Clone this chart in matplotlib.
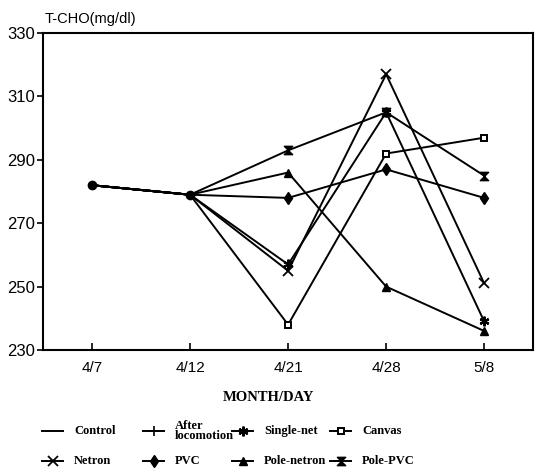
import numpy as np
import matplotlib
matplotlib.use("Agg")
import matplotlib.pyplot as plt
from matplotlib.path import Path
from matplotlib.lines import Line2D

days = ["4/7", "4/12", "4/21", "4/28", "5/8"]
nan = np.nan

control = [282, 279, nan, nan, nan]
after_loco = [282, 279, nan, nan, nan]
single_net = [282, 279, 257, 305, 239]
canvas = [282, 279, 238, 292, 297]
netron = [282, 279, 255, 317, 251]
pvc = [282, 279, 278, 287, 278]
pole_netron = [282, 279, 286, 250, 236]
pole_pvc = [282, 279, 293, 305, 285]

W, H = 537, 473

# hourglass marker for Pole-PVC
hourglass = Path([(-1, 1), (1, 1), (-1, -1), (1, -1), (-1, 1)],
                 [Path.MOVETO, Path.LINETO, Path.LINETO, Path.LINETO, Path.CLOSEPOLY])

fig = plt.figure(figsize=(W / 100, H / 100), dpi=100)
ax = fig.add_axes([0.080, 0.260, 0.913, 0.670])

x = np.arange(len(days))
lw = 1.4

series = [
    ("Control", control, dict(marker=None)),
    ("After\nlocomotion", after_loco, dict(marker="+", ms=7, mew=1.2)),
    ("Single-net", single_net, dict(marker=(6, 2, 0), ms=7, mew=1.6)),
    ("Canvas", canvas, dict(marker="s", ms=5, mfc="white", mew=1.4)),
    ("Netron", netron, dict(marker="x", ms=7, mew=1.3)),
    ("PVC", pvc, dict(marker="d", ms=6)),
    ("Pole-netron", pole_netron, dict(marker="^", ms=6)),
    ("Pole-PVC", pole_pvc, dict(marker=hourglass, ms=6)),
]

for name, vals, mk in series:
    ax.plot(x, vals, color="black", lw=lw, markevery=[2, 3, 4], **mk)

# the common start points are drawn as dots
ax.plot(x[:2], control[:2], "o", color="black", ms=6, ls="none")

ax.set_xlim(-0.5, 4.5)
ax.set_ylim(230, 330)
ax.set_yticks(np.arange(230, 331, 20))
ax.set_xticks(x)
ax.set_xticklabels(days)

for lab in ax.get_yticklabels():
    lab.set_fontfamily("Liberation Sans")
    lab.set_fontsize(12)
for lab in ax.get_xticklabels():
    lab.set_fontfamily("Liberation Sans")
    lab.set_fontsize(11)

ax.tick_params(axis="y", direction="out", length=4, width=1.2, pad=2)
ax.tick_params(axis="x", direction="in", length=5, width=1.2, pad=8)
for s in ax.spines.values():
    s.set_linewidth(1.5)

fig.text(0.083, 0.960, "T-CHO(mg/dl)", fontsize=10.5, family="Liberation Sans",
         ha="left", va="center")
fig.text(0.5, 0.160, "MONTH/DAY", fontsize=10.5, family="Liberation Serif",
         weight="bold", ha="center", va="center")

# hand-placed legend, 4 columns x 2 rows (pixel positions)
col_x = [42, 143, 232, 330]
row_y = [431, 461]
for i, (name, vals, mk) in enumerate(series):
    r, c = divmod(i, 4)
    x0 = col_x[c]
    y0 = H - row_y[r]
    fig.add_artist(Line2D([x0 / W, (x0 + 21) / W], [y0 / H, y0 / H],
                          transform=fig.transFigure, color="black", lw=lw))
    if mk.get("marker") is not None:
        fig.add_artist(Line2D([(x0 + 10.5) / W], [y0 / H], transform=fig.transFigure,
                              color="black", ls="none", **mk))
    fig.text((x0 + 32) / W, y0 / H, name, fontsize=9, family="Liberation Serif",
             weight="bold", ha="left", va="center", linespacing=0.85)

fig.savefig("out.png", dpi=100)
